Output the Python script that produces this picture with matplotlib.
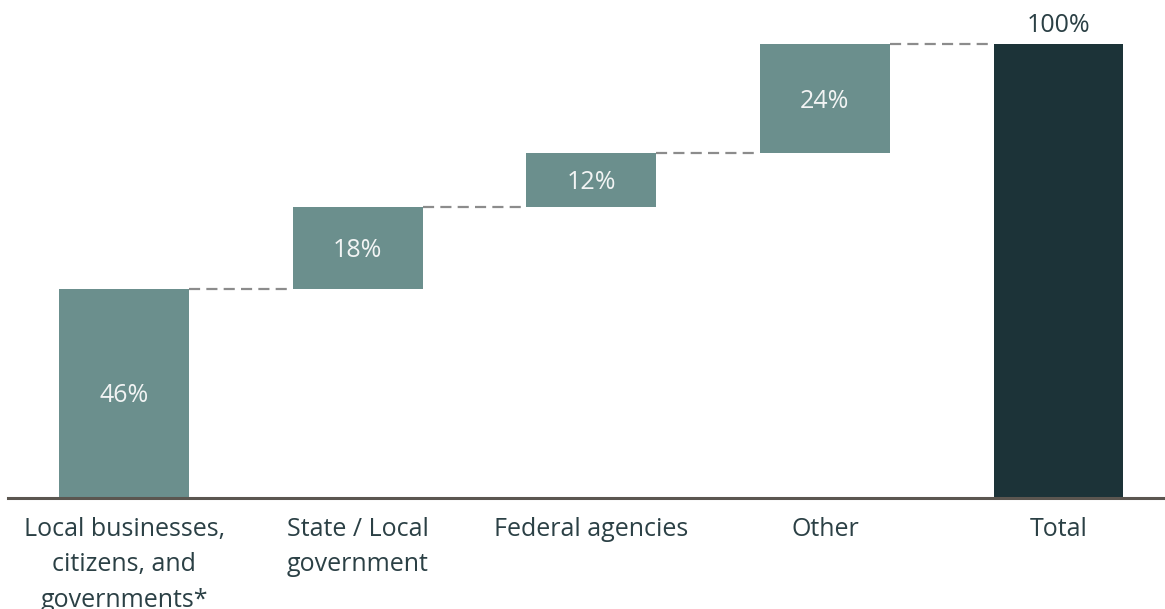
import matplotlib
matplotlib.use("Agg")
import matplotlib.pyplot as plt

plt.rcParams['font.family'] = ['Open Sans', 'DejaVu Sans']

categories = ["Local businesses,\ncitizens, and\ngovernments*",
              "State / Local\ngovernment",
              "Federal agencies",
              "Other",
              "Total"]
shares = [46, 18, 12, 24]
total = 100

step_color = "#6b8f8d"
total_color = "#1c3338"
text_color = "#2b4045"

fig = plt.figure(figsize=(11.65, 6.09), dpi=100)
ax = fig.add_axes([8 / 1165, (609 - 497.5) / 609, 1 - 8 / 1165, 497.5 / 609])

width = 0.555
bottoms = []
level = 0
for v in shares:
    bottoms.append(level)
    level += v

x = list(range(len(categories)))
ax.bar(x[:-1], shares, bottom=bottoms, width=width, color=step_color, zorder=2)
ax.bar(x[-1], total, width=width, color=total_color, zorder=2)

# connectors between consecutive bars
tops = [b + v for b, v in zip(bottoms, shares)]
for i, t in enumerate(tops):
    ax.plot([x[i] + width / 2, x[i + 1] - width / 2], [t, t],
            color="#8c8c8c", lw=1.6, ls=(0, (5, 2.8)), zorder=1)

fs = 18
for xi, b, v in zip(x, bottoms, shares):
    ax.text(xi, b + v / 2 - 0.6, f"{v}%", ha="center", va="center",
            color="#f2f4f4", fontsize=fs)
ax.text(x[-1], total + 1.4, f"{total}%", ha="center", va="bottom",
        color=text_color, fontsize=fs)

ax.set_xlim(-0.497, 4.456)
ax.set_ylim(0, 109.7)
ax.set_xticks(x)
ax.set_xticklabels(categories, fontsize=fs, color=text_color, linespacing=1.55)
ax.tick_params(axis="x", length=0, pad=14)
ax.set_yticks([])
for s in ["top", "right", "left"]:
    ax.spines[s].set_visible(False)
ax.spines["bottom"].set_color("#5b5650")
ax.spines["bottom"].set_linewidth(2.2)

fig.savefig("out.png", dpi=100)
